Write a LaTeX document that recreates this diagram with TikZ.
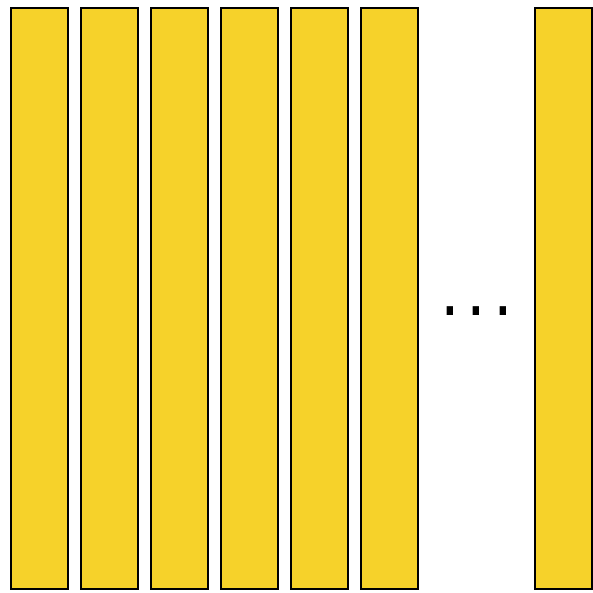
\documentclass[tikz,border=0pt]{standalone}
\usepackage{fontspec}
\usepackage{graphicx}
\newfontfamily\dejab{DejaVu Sans}[BoldFont={* Bold}]
\definecolor{baryellow}{HTML}{F6D22A}
\begin{document}
\begin{tikzpicture}[x=1pt,y=-1pt,
  bar/.style={draw=black, line width=2pt, fill=baryellow, minimum width=57pt, minimum height=581pt, inner sep=0pt, outer sep=0pt},
  dotmark/.style={inner sep=0pt, outer sep=0pt, font=\dejab\bfseries\fontsize{36}{36}\selectfont}]
\useasboundingbox (0,0) rectangle (593,593);
\node[bar] (b1) at (39,298.5) {};
\node[bar] (b2) at (109,298.5) {};
\node[bar] (b3) at (179,298.5) {};
\node[bar] (b4) at (249,298.5) {};
\node[bar] (b5) at (319,298.5) {};
\node[bar] (b6) at (389,298.5) {};
\node[bar] (b7) at (563,298.5) {};
\node[dotmark] (d1) at (450,311.5) {\scalebox{1}[1.3]{.}};
\node[dotmark] (d2) at (476.5,311.5) {\scalebox{1}[1.3]{.}};
\node[dotmark] (d3) at (503,311.5) {\scalebox{1}[1.3]{.}};
\end{tikzpicture}
\end{document}
